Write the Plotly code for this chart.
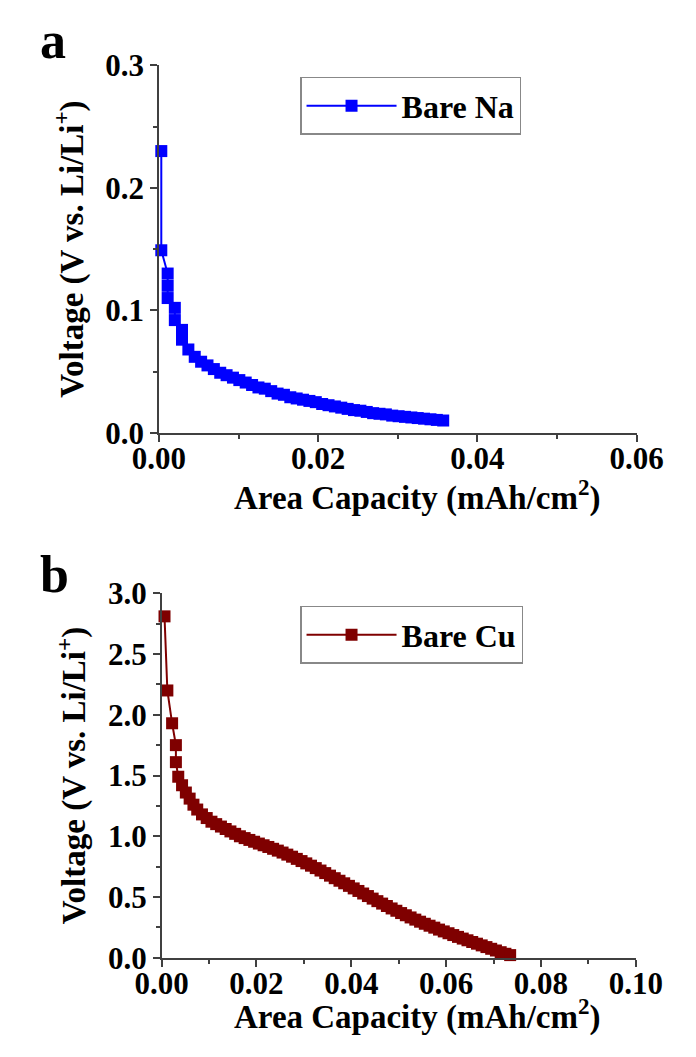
import plotly.graph_objects as go

# Bare Na electrode: area capacity (mAh/cm^2) vs voltage (V vs. Li/Li+)
na_capacity = [0.0003, 0.0003, 0.0011, 0.0011, 0.0011, 0.0020, 0.0020, 0.0029, 0.0029, 0.0037,
               0.0045, 0.0053, 0.0061, 0.0069, 0.0077, 0.0085, 0.0093, 0.0101, 0.0109, 0.0117,
               0.0125, 0.0133, 0.0141, 0.0149, 0.0157, 0.0165, 0.0173, 0.0181, 0.0189, 0.0197,
               0.0205, 0.0213, 0.0221, 0.0229, 0.0237, 0.0245, 0.0253, 0.0261, 0.0269, 0.0277,
               0.0285, 0.0293, 0.0301, 0.0309, 0.0317, 0.0325, 0.0333, 0.0341, 0.0349, 0.0357]
na_voltage = [0.230, 0.149, 0.130, 0.120, 0.110, 0.102, 0.092, 0.084, 0.076, 0.068,
              0.062, 0.058, 0.055, 0.052, 0.049, 0.047, 0.045, 0.043, 0.041, 0.039,
              0.037, 0.036, 0.034, 0.032, 0.031, 0.029, 0.028, 0.027, 0.026, 0.025,
              0.0235, 0.0225, 0.0215, 0.0205, 0.0195, 0.0185, 0.018, 0.017, 0.016, 0.0155,
              0.015, 0.014, 0.0135, 0.013, 0.0125, 0.012, 0.0115, 0.011, 0.0105, 0.010]

# Bare Cu electrode
cu_capacity = [0.0006, 0.0012, 0.0022, 0.0030, 0.0030, 0.0035, 0.0043, 0.0051, 0.0059, 0.0067,
               0.0075, 0.0085, 0.0095, 0.0105, 0.0115, 0.0125, 0.0135, 0.0145, 0.0155, 0.0165,
               0.0175, 0.0185, 0.0195, 0.0205, 0.0215, 0.0225, 0.0235, 0.0245, 0.0255, 0.0265,
               0.0275, 0.0285, 0.0295, 0.0305, 0.0315, 0.0325, 0.0335, 0.0345, 0.0355, 0.0365,
               0.0375, 0.0385, 0.0395, 0.0405, 0.0415, 0.0425, 0.0435, 0.0445, 0.0455, 0.0465,
               0.0475, 0.0485, 0.0495, 0.0505, 0.0515, 0.0525, 0.0535, 0.0545, 0.0555, 0.0565,
               0.0575, 0.0585, 0.0595, 0.0605, 0.0615, 0.0625, 0.0635, 0.0645, 0.0655, 0.0665,
               0.0675, 0.0685, 0.0695, 0.0705, 0.0715, 0.0725, 0.0735]
cu_voltage = [2.81, 2.20, 1.93, 1.75, 1.61, 1.49, 1.42, 1.36, 1.31, 1.26,
              1.22, 1.18, 1.15, 1.12, 1.10, 1.08, 1.06, 1.04, 1.02, 1.00,
              0.985, 0.97, 0.955, 0.94, 0.926, 0.912, 0.897, 0.882, 0.866, 0.849,
              0.832, 0.814, 0.796, 0.777, 0.758, 0.738, 0.718, 0.697, 0.676, 0.655,
              0.634, 0.613, 0.592, 0.571, 0.55, 0.529, 0.508, 0.487, 0.466, 0.446,
              0.426, 0.406, 0.387, 0.368, 0.35, 0.332, 0.314, 0.297, 0.28, 0.264,
              0.248, 0.232, 0.217, 0.202, 0.187, 0.172, 0.158, 0.144, 0.13, 0.116,
              0.102, 0.088, 0.074, 0.06, 0.046, 0.033, 0.022]

W, H = 696, 1057
FONT = "Liberation Serif"
AXIS_COLOR = "#404040"
XTITLE = "Area Capacity (mAh/cm<sup>2</sup>)"
YTITLE = "Voltage (V vs. Li/Li<sup>+</sup>)"

fig = go.Figure()
fig.add_trace(go.Scatter(
    x=na_capacity, y=na_voltage, mode="lines+markers", name="Bare Na",
    line=dict(color="#0000ff", width=2),
    marker=dict(symbol="square", size=12, color="#0000ff"),
    xaxis="x", yaxis="y", legend="legend", cliponaxis=False))
fig.add_trace(go.Scatter(
    x=cu_capacity, y=cu_voltage, mode="lines+markers", name="Bare Cu",
    line=dict(color="#7f0000", width=2),
    marker=dict(symbol="square", size=12, color="#7f0000"),
    xaxis="x2", yaxis="y2", legend="legend2", cliponaxis=False))


def axis(domain, rng, dtick, minor, fmt, anchor, title=None, standoff=0):
    ax = dict(
        domain=domain, range=rng, dtick=dtick, tick0=0, tickformat=fmt,
        anchor=anchor, showgrid=False, zeroline=False, showline=True,
        linecolor=AXIS_COLOR, linewidth=1.5, ticks="outside", ticklen=7,
        tickwidth=1.5, tickcolor=AXIS_COLOR, ticklabelstandoff=standoff,
        minor=dict(ticks="outside", ticklen=4, dtick=minor, tickcolor=AXIS_COLOR,
                   tickwidth=1.5, showgrid=False),
        tickfont=dict(family=FONT, size=31, color="black", weight="bold"),
    )
    if title:
        ax["title"] = dict(text=title, standoff=12,
                           font=dict(family=FONT, size=33, color="black", weight="bold"))
    return ax


def legend_box(top_px):
    return dict(x=296 / W, y=1 - top_px / H, xanchor="left", yanchor="top",
                bordercolor="#888888", borderwidth=1.5, bgcolor="white",
                itemwidth=90, tracegroupgap=0,
                font=dict(family=FONT, size=32, color="black", weight="bold"))


def label(text, x_px, y_px, size, xanchor="left"):
    return dict(text=text, x=x_px / W, y=1 - y_px / H, xref="paper", yref="paper",
                xanchor=xanchor, yanchor="middle", showarrow=False,
                font=dict(family=FONT, size=size, color="black", weight="bold"))


fig.update_layout(
    width=W, height=H, margin=dict(l=0, r=0, t=0, b=0),
    paper_bgcolor="white", plot_bgcolor="white",
    xaxis=axis([143 / W, 661 / W], [0, 0.06], 0.02, 0.01, ".2f", "y", standoff=-10),
    yaxis=axis([1 - 430 / H, 1 - 50 / H], [0, 0.3], 0.1, 0.05, ".1f", "x", YTITLE),
    xaxis2=axis([146 / W, 660 / W], [0, 0.10], 0.02, 0.01, ".2f", "y2", standoff=-10),
    yaxis2=axis([1 - 973 / H, 1 - 596 / H], [0, 3.0], 0.5, 0.25, ".1f", "x2", YTITLE),
    legend=legend_box(62),
    legend2=legend_box(609),
    showlegend=True,
    annotations=[
        label("a", 12, 24, 52),
        label("b", 12, 577, 52),
        label(XTITLE, 423, 495, 33, xanchor="center"),
        label(XTITLE, 423, 1032, 33, xanchor="center"),
    ],
)

fig.write_html("out.html")
